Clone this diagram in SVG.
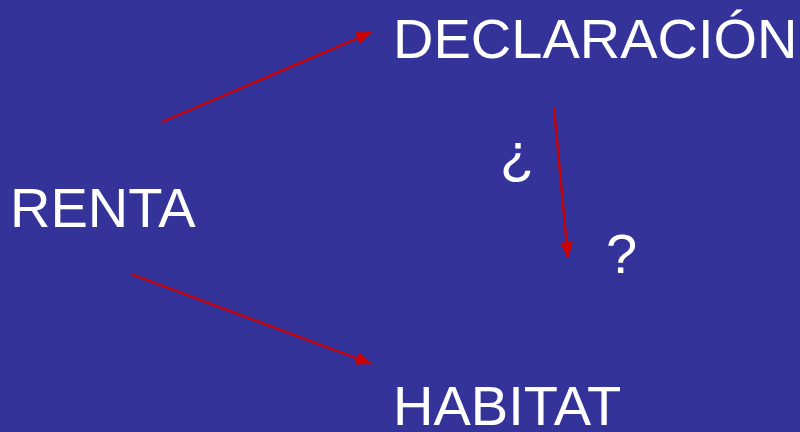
<svg xmlns="http://www.w3.org/2000/svg" width="800" height="432" viewBox="0 0 800 432">
<style>
.t{font-family:"Liberation Sans",Arial,sans-serif;font-size:56px;fill:#FFFFFF}
.c{stroke:#CC0000;stroke-width:2.4;fill:none;marker-end:url(#ah)}
</style>
<defs>
<marker id="ah" markerUnits="userSpaceOnUse" markerWidth="18" markerHeight="14" refX="16" refY="6.5" orient="auto" viewBox="0 0 18 13">
<path d="M0,0 L16,6.5 L0,13 Z" fill="#CC0000"/>
</marker>
</defs>
<rect width="800" height="432" fill="#333399"/>
<g id="connectors">
<line class="c" x1="162" y1="122" x2="372" y2="32"/>
<line class="c" x1="131" y1="274" x2="372" y2="364"/>
<line class="c" x1="554" y1="108" x2="568" y2="258"/>
</g>
<g id="renta"><text class="t" x="10" y="227">RENTA</text></g>
<g id="declaracion"><text class="t" x="393" y="58">DECLARACIÓN</text></g>
<g id="habitat"><text class="t" x="393" y="425">HABITAT</text></g>
<g id="q-open"><text class="t" x="500" y="172">¿</text></g>
<g id="q-close"><text class="t" x="606" y="273">?</text></g>
</svg>
